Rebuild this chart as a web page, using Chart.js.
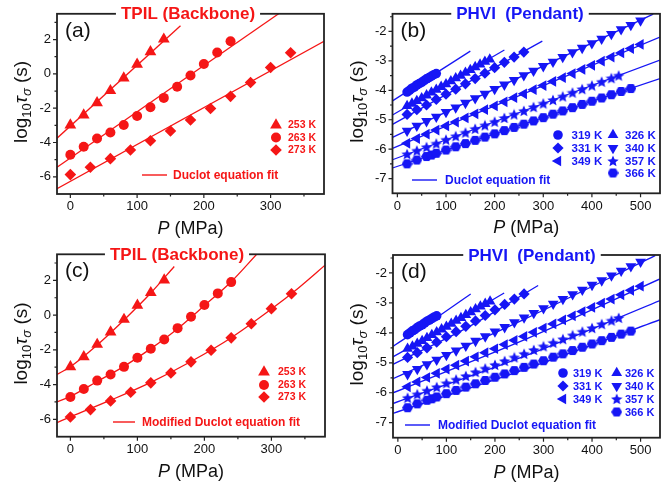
<!DOCTYPE html>
<html>
<head>
<meta charset="utf-8">
<script src="https://cdn.jsdelivr.net/npm/chart.js@4.4.1/dist/chart.umd.min.js"></script>
<style>
  body { margin: 0; background: #fff; }
  #wrap { position: relative; width: 671px; height: 483px; overflow: hidden; }
  canvas { position: absolute; }
</style>
</head>
<body>
<div id="wrap">
  <canvas id="cA" width="336" height="240" style="left:0;top:0"></canvas>
  <canvas id="cB" width="335" height="240" style="left:336px;top:0"></canvas>
  <canvas id="cC" width="336" height="243" style="left:0;top:240px"></canvas>
  <canvas id="cD" width="335" height="243" style="left:336px;top:240px"></canvas>
</div>
<script>
const FONT = "'Liberation Sans', Arial, sans-serif";
const RED = 'rgb(245,22,22)';
const BLUE = 'rgb(22,22,245)';

// ---------- TPIL (Backbone) : panels (a), (c) ----------
const tpilP253 = [0, 20, 40, 60, 80, 100, 120, 140];
const tpilY253 = [-2.98, -2.40, -1.69, -0.98, -0.25, 0.56, 1.29, 2.02];
const tpilP263 = [0, 20, 40, 60, 80, 100, 120, 140, 160, 180, 200, 220, 240];
const tpilY263 = [-4.71, -4.25, -3.77, -3.42, -2.98, -2.46, -1.94, -1.40, -0.75, -0.10, 0.58, 1.25, 1.90];
const tpilP273 = [0, 30, 60, 90, 120, 150, 180, 210, 240, 270, 300, 330];
const tpilY273 = [-5.87, -5.44, -4.94, -4.44, -3.90, -3.33, -2.69, -2.02, -1.31, -0.50, 0.37, 1.23];

// Duclot fit (a) - straight lines, ends
const fitA253P = [-20, 165],  fitA253Y = [-3.75, 2.80];
const fitA263P = [-20, 312],  fitA263Y = [-5.44, 3.50];
const fitA273P = [-20, 380],  fitA273Y = [-6.69, 1.90];

// Modified Duclot fit (c) - curves
const fitC253P = [-20, 0, 40, 80, 120, 155];
const fitC253Y = [-3.42, -2.97, -1.72, -0.28, 1.27, 2.80];
const fitC263P = [-20, 0, 40, 80, 120, 160, 200, 240, 278];
const fitC263Y = [-5.00, -4.68, -3.82, -2.95, -1.93, -0.78, 0.55, 1.92, 3.50];
const fitC273P = [-20, 0, 60, 120, 180, 240, 300, 340, 380];
const fitC273Y = [-6.19, -5.86, -4.90, -3.87, -2.67, -1.30, 0.35, 1.55, 2.87];

// ---------- PHVI (Pendant) : panels (b), (d) ----------
const phviP319 = [20, 25, 30, 35, 40, 45, 50, 55, 60, 65, 70, 75, 80];
const phviY319 = [-4.06, -4.00, -3.93, -3.89, -3.82, -3.77, -3.73, -3.67, -3.61, -3.57, -3.52, -3.47, -3.43];
const phviP326 = [20, 30, 40, 50, 60, 70, 80, 90, 100, 110, 120, 130, 140, 150, 160, 170, 180, 190];
const phviY326 = [-4.53, -4.45, -4.36, -4.27, -4.17, -4.07, -3.98, -3.88, -3.79, -3.69, -3.59, -3.50, -3.40, -3.31, -3.21, -3.12, -3.03, -2.95];
const phviP331 = [20, 40, 60, 80, 100, 120, 140, 160, 180, 200, 220, 240, 260];
const phviY331 = [-4.82, -4.66, -4.50, -4.31, -4.13, -3.96, -3.78, -3.60, -3.42, -3.23, -3.05, -2.87, -2.70];
const phviP340 = [20, 40, 60, 80, 100, 120, 140, 160, 180, 200, 220, 240, 260, 280, 300, 320, 340, 360, 380, 400, 420, 440, 460, 480, 500];
const phviY340 = [-5.38, -5.21, -5.05, -4.90, -4.74, -4.59, -4.43, -4.27, -4.12, -3.96, -3.81, -3.65, -3.49, -3.34, -3.18, -3.03, -2.87, -2.71, -2.56, -2.40, -2.25, -2.09, -1.93, -1.78, -1.63];
const phviP349 = [20, 40, 60, 80, 100, 120, 140, 160, 180, 200, 220, 240, 260, 280, 300, 320, 340, 360, 380, 400, 420, 440, 460, 480, 500];
const phviY349 = [-5.80, -5.64, -5.49, -5.35, -5.21, -5.08, -4.94, -4.80, -4.66, -4.53, -4.39, -4.25, -4.12, -3.98, -3.84, -3.70, -3.57, -3.43, -3.29, -3.15, -3.01, -2.87, -2.73, -2.58, -2.44];
const phviP357 = [20, 40, 60, 80, 100, 120, 140, 160, 180, 200, 220, 240, 260, 280, 300, 320, 340, 360, 380, 400, 420, 440, 455];
const phviY357 = [-6.17, -6.05, -5.93, -5.81, -5.68, -5.56, -5.44, -5.31, -5.19, -5.07, -4.94, -4.82, -4.70, -4.57, -4.45, -4.33, -4.21, -4.08, -3.96, -3.84, -3.71, -3.59, -3.50];
const phviP366 = [20, 40, 60, 70, 80, 100, 120, 140, 160, 180, 200, 220, 240, 260, 280, 300, 320, 340, 360, 380, 400, 420, 440, 460, 480];
const phviY366 = [-6.50, -6.37, -6.25, -6.20, -6.14, -6.03, -5.92, -5.81, -5.70, -5.59, -5.48, -5.37, -5.26, -5.15, -5.04, -4.93, -4.81, -4.70, -4.59, -4.48, -4.37, -4.26, -4.15, -4.04, -3.94];

// Duclot fit (b) - straight lines
const fitB319P = [-10, 150], fitB319Y = [-4.36, -2.67];
const fitB326P = [-10, 220], fitB326Y = [-4.84, -2.63];
const fitB331P = [-10, 298], fitB331Y = [-5.16, -2.33];
const fitB340P = [-10, 526], fitB340Y = [-5.60, -1.41];
const fitB349P = [-10, 540], fitB349Y = [-5.97, -2.19];
const fitB357P = [-10, 540], fitB357Y = [-6.36, -2.97];
const fitB366P = [-10, 540], fitB366Y = [-6.64, -3.60];

// Modified Duclot fit (d)
const fitD319P = [-10, 70, 150],  fitD319Y = [-4.45, -3.60, -2.70];
const fitD326P = [-10, 100, 219], fitD326Y = [-4.80, -3.80, -2.67];
const fitD331P = [-10, 140, 289], fitD331Y = [-5.05, -3.85, -2.42];
const fitD340P = [-10, 260, 530], fitD340Y = [-5.53, -3.55, -1.42];
const fitD349P = [-10, 265, 540], fitD349Y = [-6.00, -4.20, -2.20];
const fitD357P = [-10, 265, 540], fitD357Y = [-6.36, -4.75, -2.92];
const fitD366P = [-10, 265, 540], fitD366Y = [-6.69, -5.20, -3.56];

// axis ticks
const tpilXMajor = [0, 100, 200, 300], tpilXMinor = [50, 150, 250, 350];
const tpilYMajor = [-6, -4, -2, 0, 2], tpilYMinor = [-5, -3, -1, 1, 3];
const phviXMajor = [0, 100, 200, 300, 400, 500], phviXMinor = [50, 150, 250, 350, 450];
const phviYMajor = [-7, -6, -5, -4, -3, -2], phviYMinor = [-6.5, -5.5, -4.5, -3.5, -2.5, -1.5];

// filled star / hexagon marker images
function makeMarker(kind, size, color) {
  const c = document.createElement('canvas');
  c.width = size; c.height = size;
  const g = c.getContext('2d');
  const cx = size / 2, cy = size / 2, R = size / 2;
  g.fillStyle = color;
  g.beginPath();
  if (kind === 'star') {
    for (let i = 0; i < 10; i++) {
      const r = i % 2 ? R * 0.45 : R;
      const t = -Math.PI / 2 + i * Math.PI / 5;
      g.lineTo(cx + r * Math.cos(t), cy + 0.5 + r * Math.sin(t));
    }
  } else {
    for (let i = 0; i < 6; i++) {
      const t = i * Math.PI / 3;
      g.lineTo(cx + R * Math.cos(t), cy + R * 0.95 * Math.sin(t));
    }
  }
  g.closePath();
  g.fill();
  return c;
}
const starImg = makeMarker('star', 12, BLUE);
const hexImg = makeMarker('hex', 11, BLUE);

function pts(P, Y) { return P.map((p, i) => ({ x: p, y: Y[i] })); }

function markerSet(P, Y, color, m) {
  return {
    data: pts(P, Y), showLine: false, order: 0,
    pointStyle: m.style, pointRadius: m.radius, pointRotation: m.rotation || 0,
    backgroundColor: color, borderColor: color, pointBorderWidth: 0, borderWidth: 0
  };
}
function fitSet(P, Y, color, curved) {
  return {
    data: pts(P, Y), showLine: true, order: 1, pointRadius: 0,
    borderColor: color, borderWidth: 1.3, fill: false,
    tension: curved ? 0.4 : 0, cubicInterpolationMode: curved ? 'monotone' : 'default'
  };
}

const mTriUp = { style: 'triangle', radius: 6.8 };
const mCircle = { style: 'circle', radius: 5 };
const mDiamond = { style: 'rectRot', radius: 5.8 };
const sTriUp = { style: 'triangle', radius: 6.2 };
const sCircle = { style: 'circle', radius: 4.8 };
const sDiamond = { style: 'rectRot', radius: 5.6 };
const sTriDown = { style: 'triangle', radius: 6.2, rotation: 180 };
const sTriLeft = { style: 'triangle', radius: 6.2, rotation: -90 };
const sStar = { style: starImg, radius: 6 };
const sHex = { style: hexImg, radius: 5.5 };

function drawYTitle(ctx, cx, cy) {
  const parts = [
    { t: 'log', f: '19px', dy: 7 },
    { t: '10', f: '13px', dy: 11 },
    { t: 'τ', f: 'italic 19px', dy: 7 },
    { t: 'σ', f: 'italic 13px', dy: 11 },
    { t: ' (s)', f: '19px', dy: 7 }
  ];
  ctx.save();
  ctx.translate(cx, cy);
  ctx.rotate(-Math.PI / 2);
  let w = 0;
  parts.forEach(p => { ctx.font = p.f + ' ' + FONT; p.w = ctx.measureText(p.t).width; w += p.w; });
  let x = -w / 2;
  ctx.fillStyle = '#111';
  ctx.textAlign = 'left';
  ctx.textBaseline = 'alphabetic';
  parts.forEach(p => { ctx.font = p.f + ' ' + FONT; ctx.fillText(p.t, x, p.dy); x += p.w; });
  ctx.restore();
}

function drawXTitle(ctx, cx, cy) {
  ctx.save();
  ctx.fillStyle = '#111';
  ctx.textBaseline = 'middle';
  ctx.textAlign = 'left';
  ctx.font = 'italic 18px ' + FONT;
  const w1 = ctx.measureText('P').width;
  ctx.font = '18px ' + FONT;
  const w2 = ctx.measureText(' (MPa)').width;
  let x = cx - (w1 + w2) / 2;
  ctx.font = 'italic 18px ' + FONT;
  ctx.fillText('P', x, cy);
  ctx.font = '18px ' + FONT;
  ctx.fillText(' (MPa)', x + w1, cy);
  ctx.restore();
}

const panelDeco = {
  id: 'panelDeco',
  afterDraw(chart, args, o) {
    const ctx = chart.ctx, a = chart.chartArea;
    const xs = chart.scales.x, ys = chart.scales.y;
    ctx.save();
    ctx.strokeStyle = '#222';
    ctx.lineWidth = 1.2;
    ctx.beginPath();
    o.xMajor.forEach(v => { const p = xs.getPixelForValue(v); ctx.moveTo(p, a.bottom); ctx.lineTo(p, a.bottom + 4); });
    o.xMinor.forEach(v => { const p = xs.getPixelForValue(v); ctx.moveTo(p, a.bottom); ctx.lineTo(p, a.bottom + 2.5); });
    o.yMajor.forEach(v => { const p = ys.getPixelForValue(v); ctx.moveTo(a.left, p); ctx.lineTo(a.left - 4, p); });
    o.yMinor.forEach(v => { const p = ys.getPixelForValue(v); ctx.moveTo(a.left, p); ctx.lineTo(a.left - 2.5, p); });
    ctx.stroke();

    // frame
    ctx.lineWidth = 1.8;
    ctx.strokeRect(a.left, a.top, a.right - a.left, a.bottom - a.top);

    // title sitting on the top border
    ctx.font = 'bold 17px ' + FONT;
    const tw = ctx.measureText(o.title).width;
    ctx.fillStyle = '#fff';
    ctx.fillRect(o.titleX - tw / 2 - 5, a.top - 3, tw + 10, 6);
    ctx.fillStyle = o.color;
    ctx.textAlign = 'center';
    ctx.textBaseline = 'middle';
    ctx.fillText(o.title, o.titleX, a.top + 1);

    // panel letter
    ctx.fillStyle = '#111';
    ctx.textAlign = 'left';
    ctx.font = '21px ' + FONT;
    ctx.fillText(o.letter, a.left + 8, a.top + 17);

    // legend
    ctx.textBaseline = 'middle';
    o.legend.forEach(it => {
      ctx.fillStyle = o.color;
      ctx.strokeStyle = o.color;
      if (Chart.helpers && Chart.helpers.drawPoint) {
        Chart.helpers.drawPoint(ctx, { pointStyle: it.m.style, rotation: it.m.rotation || 0, radius: it.m.radius, borderWidth: 0 }, it.mx, it.y);
      }
      ctx.font = 'bold ' + o.legendSize + 'px ' + FONT;
      ctx.fillText(it.label, it.tx, it.y + 0.5);
    });
    ctx.strokeStyle = o.color;
    ctx.lineWidth = 1.4;
    ctx.beginPath();
    ctx.moveTo(o.fit.x1, o.fit.y);
    ctx.lineTo(o.fit.x2, o.fit.y);
    ctx.stroke();
    ctx.font = 'bold 12px ' + FONT;
    ctx.fillStyle = o.color;
    ctx.fillText(o.fit.label, o.fit.tx, o.fit.y + 0.5);

    drawYTitle(ctx, 20, (a.top + a.bottom) / 2 - 2);
    drawXTitle(ctx, (a.left + a.right) / 2, a.bottom + 35);
    ctx.restore();
  }
};

function makeChart(id, cfg) {
  return new Chart(document.getElementById(id), {
    type: 'scatter',
    data: { datasets: cfg.datasets },
    plugins: [panelDeco],
    options: {
      responsive: false,
      animation: false,
      events: [],
      layout: { padding: { top: cfg.padTop, right: cfg.padRight, left: 0, bottom: 0 } },
      plugins: { legend: { display: false }, tooltip: { enabled: false }, panelDeco: cfg.deco },
      scales: {
        x: {
          type: 'linear', min: cfg.xMin, max: cfg.xMax,
          grid: { display: false, drawTicks: false }, border: { display: false },
          ticks: { color: '#111', font: { size: 13, family: FONT }, padding: 5, maxRotation: 0 },
          afterBuildTicks: s => { s.ticks = cfg.deco.xMajor.map(v => ({ value: v })); },
          afterFit: s => { s.height = cfg.xH; }
        },
        y: {
          type: 'linear', min: cfg.yMin, max: cfg.yMax,
          grid: { display: false, drawTicks: false }, border: { display: false },
          ticks: { color: '#111', font: { size: 13, family: FONT }, padding: 6 },
          afterBuildTicks: s => { s.ticks = cfg.deco.yMajor.map(v => ({ value: v })); },
          afterFit: s => { s.width = cfg.yW; }
        }
      }
    }
  });
}

function tpilMarkers() {
  return [
    markerSet(tpilP253, tpilY253, RED, mTriUp),
    markerSet(tpilP263, tpilY263, RED, mCircle),
    markerSet(tpilP273, tpilY273, RED, mDiamond)
  ];
}
function phviMarkers() {
  return [
    markerSet(phviP319, phviY319, BLUE, sCircle),
    markerSet(phviP326, phviY326, BLUE, sTriUp),
    markerSet(phviP331, phviY331, BLUE, sDiamond),
    markerSet(phviP340, phviY340, BLUE, sTriDown),
    markerSet(phviP349, phviY349, BLUE, sTriLeft),
    markerSet(phviP357, phviY357, BLUE, sStar),
    markerSet(phviP366, phviY366, BLUE, sHex)
  ];
}
function tpilLegend(mx, tx, rows) {
  return [
    { label: '253 K', m: mTriUp, mx: mx, tx: tx, y: rows[0] },
    { label: '263 K', m: mCircle, mx: mx, tx: tx, y: rows[1] },
    { label: '273 K', m: mDiamond, mx: mx, tx: tx, y: rows[2] }
  ];
}
function phviLegend(m1, t1, m2, t2, rows) {
  return [
    { label: '319 K', m: sCircle, mx: m1, tx: t1, y: rows[0] },
    { label: '326 K', m: sTriUp, mx: m2, tx: t2, y: rows[0] },
    { label: '331 K', m: sDiamond, mx: m1, tx: t1, y: rows[1] },
    { label: '340 K', m: sTriDown, mx: m2, tx: t2, y: rows[1] },
    { label: '349 K', m: sTriLeft, mx: m1, tx: t1, y: rows[2] },
    { label: '357 K', m: sStar, mx: m2, tx: t2, y: rows[2] },
    { label: '366 K', m: sHex, mx: m2, tx: t2, y: rows[3] }
  ];
}

// (a)
makeChart('cA', {
  xMin: -20, xMax: 380, yMin: -7, yMax: 3.5,
  padTop: 12, padRight: 12, yW: 57, xH: 46,
  datasets: tpilMarkers().concat([
    fitSet(fitA253P, fitA253Y, RED, false),
    fitSet(fitA263P, fitA263Y, RED, false),
    fitSet(fitA273P, fitA273Y, RED, false)
  ]),
  deco: {
    title: 'TPIL (Backbone)', titleX: 188, color: RED, letter: '(a)',
    xMajor: tpilXMajor, xMinor: tpilXMinor, yMajor: tpilYMajor, yMinor: tpilYMinor,
    legendSize: 10.5, legend: tpilLegend(276, 288, [125, 137.5, 150]),
    fit: { x1: 142, x2: 167, y: 175, tx: 173, label: 'Duclot equation fit' }
  }
});

// (b)
makeChart('cB', {
  xMin: -10, xMax: 540, yMin: -7.5, yMax: -1.4,
  padTop: 12, padRight: 11, yW: 56.5, xH: 46.7,
  datasets: phviMarkers().concat([
    fitSet(fitB319P, fitB319Y, BLUE, false),
    fitSet(fitB326P, fitB326Y, BLUE, false),
    fitSet(fitB331P, fitB331Y, BLUE, false),
    fitSet(fitB340P, fitB340Y, BLUE, false),
    fitSet(fitB349P, fitB349Y, BLUE, false),
    fitSet(fitB357P, fitB357Y, BLUE, false),
    fitSet(fitB366P, fitB366Y, BLUE, false)
  ]),
  deco: {
    title: 'PHVI  (Pendant)', titleX: 184, color: BLUE, letter: '(b)',
    xMajor: phviXMajor, xMinor: phviXMinor, yMajor: phviYMajor, yMinor: phviYMinor,
    legendSize: 11.5, legend: phviLegend(222, 235.5, 277, 289, [135, 148, 161, 173]),
    fit: { x1: 76, x2: 101, y: 180, tx: 109, label: 'Duclot equation fit' }
  }
});

// (c)
makeChart('cC', {
  xMin: -20, xMax: 380, yMin: -7, yMax: 3.5,
  padTop: 14.3, padRight: 11, yW: 57, xH: 46.3,
  datasets: tpilMarkers().concat([
    fitSet(fitC253P, fitC253Y, RED, true),
    fitSet(fitC263P, fitC263Y, RED, true),
    fitSet(fitC273P, fitC273Y, RED, true)
  ]),
  deco: {
    title: 'TPIL (Backbone)', titleX: 177, color: RED, letter: '(c)',
    xMajor: tpilXMajor, xMinor: tpilXMinor, yMajor: tpilYMajor, yMinor: tpilYMinor,
    legendSize: 10.5, legend: tpilLegend(264, 278, [132, 145, 157]),
    fit: { x1: 113, x2: 135, y: 182, tx: 142, label: 'Modified Duclot equation fit' }
  }
});

// (d)
makeChart('cD', {
  xMin: -10, xMax: 540, yMin: -7.5, yMax: -1.4,
  padTop: 15, padRight: 11, yW: 57, xH: 45.3,
  datasets: phviMarkers().concat([
    fitSet(fitD319P, fitD319Y, BLUE, true),
    fitSet(fitD326P, fitD326Y, BLUE, true),
    fitSet(fitD331P, fitD331Y, BLUE, true),
    fitSet(fitD340P, fitD340Y, BLUE, true),
    fitSet(fitD349P, fitD349Y, BLUE, true),
    fitSet(fitD357P, fitD357Y, BLUE, true),
    fitSet(fitD366P, fitD366Y, BLUE, true)
  ]),
  deco: {
    title: 'PHVI  (Pendant)', titleX: 196, color: BLUE, letter: '(d)',
    xMajor: phviXMajor, xMinor: phviXMinor, yMajor: phviYMajor, yMinor: phviYMinor,
    legendSize: 11, legend: phviLegend(227, 237, 280.7, 289, [133, 146, 159, 172]),
    fit: { x1: 69, x2: 94, y: 185, tx: 102, label: 'Modified Duclot equation fit' }
  }
});
</script>
</body>
</html>
